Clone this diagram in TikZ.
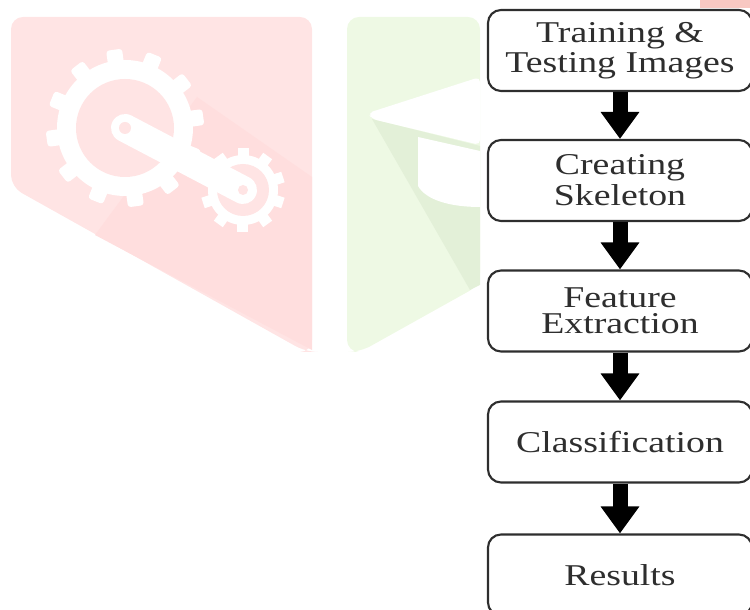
\documentclass[tikz,border=0pt]{standalone}
\usepackage{fontspec}
\setmainfont{Liberation Serif}
\newfontfamily\boxfont[FakeStretch=1.25]{Liberation Serif}
\usetikzlibrary{arrows.meta,calc}
\definecolor{wmred}{HTML}{FFE4E4}
\definecolor{wmredshade}{HTML}{FFDEDE}
\definecolor{wmgreen}{HTML}{EEF9E4}
\definecolor{wmgreenshade}{HTML}{E3F0D8}
\definecolor{cornerpink}{HTML}{F8C8C2}
\definecolor{boxline}{HTML}{2E2E2E}
\tikzset{
  stagebox/.style={draw=boxline, line width=0.6pt, fill=white, rounded corners=0.13cm,
    minimum width=2.64cm, minimum height=0.81cm, align=center, text=boxline,
    font=\boxfont\fontsize{8.6}{7.4}\selectfont, inner sep=0pt},
  flowarrow/.style={line width=0.15cm, -{Triangle[width=0.37cm,length=0.27cm]}}
}
\begin{document}
\begin{tikzpicture}
    \useasboundingbox (0,0) rectangle (7.5,-6.1);
    \clip (0,0) rectangle (7.5,-6.1);
    % watermark - gears
    \fill[wmred, rounded corners=0.12cm] (0.11,-1.87) -- (0.11,-0.17) -- (3.12,-0.17) -- (3.12,-3.52) -- (3.06,-3.52) -- cycle;
    \fill[wmredshade] (1.97,-0.97) -- (3.12,-1.77) -- (3.12,-3.50) -- (0.95,-2.35) -- cycle;
    \coordinate (bg) at (1.25,-1.28);
    \coordinate (sg) at (2.43,-1.90);
    \fill[white] (bg) circle (0.68);
    \foreach \a in {0,30,...,330}
        \fill[white, rounded corners=0.03cm, rotate around={\a+8:(bg)}] ($(bg)+(-0.08,0)$) rectangle ++(0.16,0.79);
    \fill[white] (sg) circle (0.35);
    \foreach \a in {0,36,...,324}
        \fill[white, rotate around={\a:(sg)}] ($(sg)+(-0.055,0)$) rectangle ++(0.11,0.42);
    \fill[wmred] (bg) circle (0.49);
    \fill[wmred] (sg) circle (0.26);
    \draw[white, line width=0.28cm, line cap=round] (bg) -- (sg);
    \fill[wmred] (bg) circle (0.06);
    \fill[wmred] (sg) circle (0.05);
    % watermark - cap
    \fill[wmgreen, rounded corners=0.12cm] (3.47,-3.52) -- (3.47,-0.17) -- (4.80,-0.17) -- (4.80,-2.85) -- (3.60,-3.52) -- cycle;
    \fill[wmgreenshade] (3.72,-1.19) -- (4.80,-1.46) -- (4.80,-2.85) -- (4.70,-2.90) -- cycle;
    \fill[white, rounded corners=0.05cm] (3.68,-1.13) -- (4.80,-0.77) -- (4.80,-1.45) -- (3.72,-1.19) -- cycle;
    \fill[white] (4.18,-1.37) -- (4.18,-1.86) .. controls (4.26,-2.00) and (4.50,-2.07) .. (4.80,-2.07) -- (4.80,-1.51) -- cycle;
    \fill[cornerpink] (7.0,0) rectangle (7.5,-0.08);
    % flow chart
    \node[stagebox] (train) at (6.20,-0.505) {Training \&\\Testing Images};
    \node[stagebox] (skel) at (6.20,-1.805) {Creating\\Skeleton};
    \node[stagebox] (feat) at (6.20,-3.11) {Feature\\Extraction};
    \node[stagebox] (cls) at (6.20,-4.42) {Classification};
    \node[stagebox] (res) at (6.20,-5.75) {Results};
    \draw[flowarrow] (train) -- (skel);
    \draw[flowarrow] (skel) -- (feat);
    \draw[flowarrow] (feat) -- (cls);
    \draw[flowarrow] (cls) -- (res);
\end{tikzpicture}
\end{document}
